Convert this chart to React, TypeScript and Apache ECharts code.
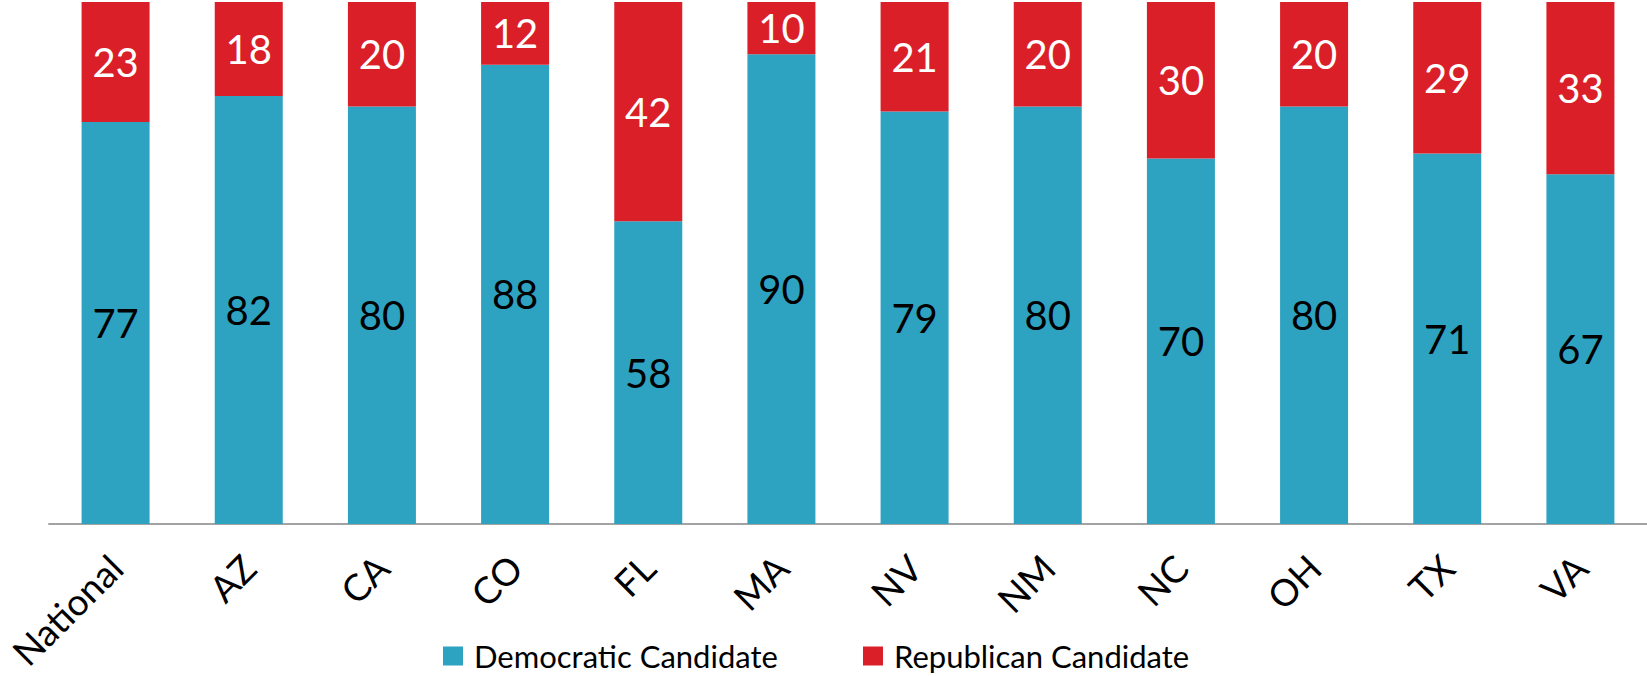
import React, { useEffect, useRef } from "react";
import * as echarts from "echarts";

const categories = ["National", "AZ", "CA", "CO", "FL", "MA", "NV", "NM", "NC", "OH", "TX", "VA"];
const democratic = [77, 82, 80, 88, 58, 90, 79, 80, 70, 80, 71, 67];
const republican = [23, 18, 20, 12, 42, 10, 21, 20, 30, 20, 29, 33];
const seriesNames = ["Democratic Candidate", "Republican Candidate"];

const BLUE = "#2EA3C1";
const RED = "#DA1F28";
const FONT = "Lato";

const legendBase = {
  top: 639,
  padding: 0,
  icon: "rect",
  itemWidth: 20,
  itemHeight: 19,
  itemGap: 6,
  textStyle: { fontFamily: FONT, fontSize: 31, lineHeight: 34, color: "#000", padding: [0, 0, 0, 6] },
};

export default function App() {
  const ref = useRef<HTMLDivElement>(null);
  useEffect(() => {
    document.body.style.margin = "0";
    if (!ref.current) return;
    const chart = echarts.init(ref.current, null, { renderer: "svg" });
    chart.setOption({
      animation: false,
      textStyle: { fontFamily: FONT },
      grid: { left: 49, right: 0, top: 2, bottom: 152, containLabel: false, outerBoundsMode: "none" },
      legend: [
        { ...legendBase, left: 443, data: [seriesNames[0]] },
        { ...legendBase, left: 863, data: [seriesNames[1]] },
      ],
      xAxis: {
        type: "category",
        data: categories,
        axisTick: { show: false },
        axisLine: { lineStyle: { color: "#A3A3A3", width: 2 } },
        axisLabel: {
          rotate: 45,
          interval: 0,
          margin: 37,
          fontSize: 37,
          color: "#000",
          fontFamily: FONT,
        },
      },
      yAxis: {
        type: "value",
        min: 0,
        max: 100,
        show: false,
        splitLine: { show: false },
      },
      series: [
        {
          name: seriesNames[0],
          type: "bar",
          stack: "total",
          data: democratic,
          barWidth: 68,
          itemStyle: { color: BLUE },
          label: {
            show: true,
            position: "inside",
            color: "#000",
            fontSize: 40,
            fontFamily: FONT,
          },
        },
        {
          name: seriesNames[1],
          type: "bar",
          stack: "total",
          data: republican,
          barWidth: 68,
          itemStyle: { color: RED },
          label: {
            show: true,
            position: "inside",
            color: "#fff",
            fontSize: 40,
            fontFamily: FONT,
          },
        },
      ],
    });
    return () => chart.dispose();
  }, []);
  return <div ref={ref} style={{ width: 1647, height: 676 }} />;
}
